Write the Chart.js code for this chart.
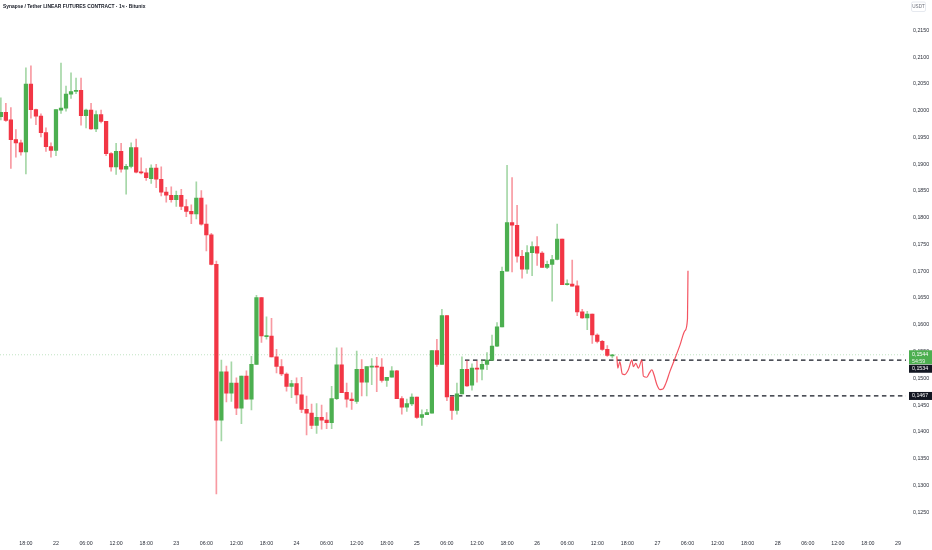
<!DOCTYPE html>
<html>
<head>
<meta charset="utf-8">
<script src="https://cdn.jsdelivr.net/npm/chart.js@4.4.1/dist/chart.umd.min.js"></script>
<style>
  html, body { margin: 0; padding: 0; background: #ffffff; }
  #wrap { width: 932px; height: 550px; }
</style>
</head>
<body>
<div id="wrap"><canvas id="chart" width="932" height="550"></canvas></div>
<script>
// --- DATA: hourly candles, Synapse / Tether, from 21 13:00 ---
const TITLE = 'Synapse / Tether LINEAR FUTURES CONTRACT · 1ч · Bitunix';
const FIRST_HOUR = -11; // hours relative to day 22 00:00

const opens = [
  0.1989, 0.1997, 0.1983, 0.1946, 0.1940, 0.1923, 0.2050, 0.2002, 0.1990, 0.1959,
  0.1933, 0.1926, 0.2001, 0.2005, 0.2031, 0.2036, 0.2038, 0.1991, 0.2001, 0.1966,
  0.1993, 0.1980, 0.1920, 0.1895, 0.1924, 0.1891, 0.1896, 0.1931, 0.1885, 0.1884,
  0.1873, 0.1893, 0.1872, 0.1848, 0.1842, 0.1834, 0.1842, 0.1821, 0.1812, 0.1807,
  0.1837, 0.1788, 0.1768, 0.1713, 0.1422, 0.1512, 0.1472, 0.1491, 0.1444, 0.1504,
  0.1461, 0.1526, 0.1651, 0.1578, 0.1579, 0.1540, 0.1522, 0.1508, 0.1485, 0.1490,
  0.1469, 0.1442, 0.1435, 0.1412, 0.1427, 0.1422, 0.1417, 0.1462, 0.1525, 0.1474,
  0.1461, 0.1457, 0.1517, 0.1493, 0.1521, 0.1522, 0.1521, 0.1496, 0.1502, 0.1514,
  0.1462, 0.1446, 0.1452, 0.1465, 0.1427, 0.1432, 0.1435, 0.1552, 0.1526, 0.1617,
  0.1465, 0.1440, 0.1471, 0.1517, 0.1487, 0.1519, 0.1517, 0.1526, 0.1534, 0.1560,
  0.1596, 0.1700, 0.1791, 0.1786, 0.1728, 0.1704, 0.1735, 0.1746, 0.1734, 0.1707,
  0.1713, 0.1722, 0.1760, 0.1675, 0.1676, 0.1673, 0.1624, 0.1613, 0.1620, 0.1581,
  0.1569, 0.1554, 0.1542
];
const highs = [
  0.2024, 0.2014, 0.2006, 0.1965, 0.1945, 0.2080, 0.2084, 0.2003, 0.1994, 0.1968,
  0.1940, 0.2002, 0.2089, 0.2046, 0.2071, 0.2061, 0.2061, 0.2003, 0.2014, 0.2000,
  0.2001, 0.1980, 0.1922, 0.1939, 0.1939, 0.1900, 0.1940, 0.1947, 0.1912, 0.1892,
  0.1899, 0.1900, 0.1895, 0.1857, 0.1858, 0.1850, 0.1853, 0.1834, 0.1824, 0.1867,
  0.1851, 0.1824, 0.1771, 0.1719, 0.1534, 0.1523, 0.1531, 0.1501, 0.1504, 0.1514,
  0.1541, 0.1655, 0.1651, 0.1615, 0.1612, 0.1554, 0.1535, 0.1510, 0.1496, 0.1501,
  0.1502, 0.1467, 0.1452, 0.1453, 0.1450, 0.1436, 0.1485, 0.1557, 0.1557, 0.1491,
  0.1473, 0.1551, 0.1535, 0.1522, 0.1537, 0.1539, 0.1537, 0.1502, 0.1522, 0.1515,
  0.1466, 0.1461, 0.1471, 0.1465, 0.1441, 0.1442, 0.1552, 0.1573, 0.1629, 0.1617,
  0.1467, 0.1491, 0.1540, 0.1533, 0.1527, 0.1532, 0.1534, 0.1548, 0.1581, 0.1604,
  0.1708, 0.1898, 0.1875, 0.1823, 0.1739, 0.1748, 0.1755, 0.1765, 0.1737, 0.1719,
  0.1730, 0.1788, 0.1760, 0.1684, 0.1721, 0.1682, 0.1629, 0.1625, 0.1620, 0.1583,
  0.1571, 0.1561, 0.1545
];
const lows = [
  0.1983, 0.1980, 0.1892, 0.1913, 0.1917, 0.1882, 0.1986, 0.1974, 0.1951, 0.1924,
  0.1913, 0.1916, 0.1995, 0.1999, 0.2023, 0.2032, 0.1973, 0.1968, 0.1965, 0.1961,
  0.1977, 0.1916, 0.1887, 0.1881, 0.1885, 0.1844, 0.1893, 0.1884, 0.1882, 0.1870,
  0.1864, 0.1856, 0.1841, 0.1829, 0.1829, 0.1821, 0.1815, 0.1802, 0.1789, 0.1798,
  0.1786, 0.1738, 0.1712, 0.1284, 0.1383, 0.1456, 0.1457, 0.1432, 0.1415, 0.1461,
  0.1441, 0.1526, 0.1567, 0.1573, 0.1540, 0.1510, 0.1505, 0.1476, 0.1464, 0.1453,
  0.1436, 0.1394, 0.1406, 0.1397, 0.1405, 0.1406, 0.1406, 0.1460, 0.1473, 0.1446,
  0.1442, 0.1453, 0.1467, 0.1467, 0.1488, 0.1475, 0.1493, 0.1485, 0.1502, 0.1462,
  0.1433, 0.1438, 0.1449, 0.1425, 0.1412, 0.1432, 0.1435, 0.1522, 0.1526, 0.1458,
  0.1423, 0.1433, 0.1471, 0.1485, 0.1478, 0.1493, 0.1497, 0.1516, 0.1534, 0.1559,
  0.1596, 0.1700, 0.1699, 0.1717, 0.1687, 0.1696, 0.1692, 0.1711, 0.1707, 0.1705,
  0.1644, 0.1721, 0.1675, 0.1674, 0.1672, 0.1617, 0.1612, 0.1591, 0.1565, 0.1566,
  0.1552, 0.1541, 0.1538
];
const closes = [
  0.1997, 0.1982, 0.1946, 0.1940, 0.1923, 0.2050, 0.2002, 0.1990, 0.1959, 0.1933,
  0.1926, 0.2002, 0.2005, 0.2031, 0.2036, 0.2038, 0.1991, 0.2001, 0.1966, 0.1993,
  0.1980, 0.1920, 0.1895, 0.1924, 0.1891, 0.1896, 0.1931, 0.1885, 0.1884, 0.1875,
  0.1893, 0.1872, 0.1848, 0.1842, 0.1834, 0.1842, 0.1821, 0.1812, 0.1807, 0.1837,
  0.1788, 0.1768, 0.1713, 0.1422, 0.1512, 0.1472, 0.1491, 0.1444, 0.1504, 0.1461,
  0.1526, 0.1651, 0.1579, 0.1579, 0.1540, 0.1522, 0.1508, 0.1485, 0.1490, 0.1469,
  0.1442, 0.1435, 0.1412, 0.1427, 0.1422, 0.1417, 0.1462, 0.1525, 0.1473, 0.1461,
  0.1458, 0.1517, 0.1493, 0.1522, 0.1522, 0.1521, 0.1496, 0.1502, 0.1514, 0.1462,
  0.1446, 0.1453, 0.1465, 0.1427, 0.1432, 0.1436, 0.1552, 0.1526, 0.1617, 0.1465,
  0.1440, 0.1471, 0.1517, 0.1486, 0.1519, 0.1517, 0.1526, 0.1534, 0.1560, 0.1596,
  0.1700, 0.1791, 0.1786, 0.1728, 0.1704, 0.1735, 0.1746, 0.1734, 0.1707, 0.1713,
  0.1722, 0.1760, 0.1675, 0.1676, 0.1672, 0.1624, 0.1613, 0.1620, 0.1581, 0.1569,
  0.1554, 0.1543, 0.1544
];

// hand-drawn projection path (hours from 22 00:00, price)
const curveHours = [111.9, 112.1, 112.5, 113.0, 113.5, 114.2, 114.9, 115.2, 115.7, 116.2,
  116.9, 117.2, 117.9, 118.4, 118.9, 119.3, 119.9, 120.5, 121.1, 121.7,
  122.5, 123.5, 124.5, 125.5, 126.0, 126.1];
const curvePrices = [0.1541, 0.1519, 0.1531, 0.1508, 0.1507, 0.1516, 0.1534, 0.1522, 0.1528, 0.1519,
  0.1534, 0.1504, 0.1502, 0.1510, 0.1516, 0.1507, 0.1488, 0.1479, 0.1480, 0.1491,
  0.1513, 0.1537, 0.1562, 0.1589, 0.1611, 0.1701];

// horizontal levels (price, start hour)
const levelPrices = [0.1534, 0.1467];
const levelStartHours = [81.6, 78.6];
const lastPrice = 0.1544;
const lastCountdown = '54:59';

// axes
const xTickHours = [-6, 0, 6, 12, 18, 24, 30, 36, 42, 48, 54, 60, 66, 72, 78, 84, 90, 96,
  102, 108, 114, 120, 126, 132, 138, 144, 150, 156, 162, 168];
const xTickLabels = ['18:00', '22', '06:00', '12:00', '18:00', '23', '06:00', '12:00', '18:00',
  '24', '06:00', '12:00', '18:00', '25', '06:00', '12:00', '18:00', '26', '06:00', '12:00',
  '18:00', '27', '06:00', '12:00', '18:00', '28', '06:00', '12:00', '18:00', '29'];
const yTickValues = [0.1250, 0.1300, 0.1350, 0.1400, 0.1450, 0.1500, 0.1550, 0.1600, 0.1650,
  0.1700, 0.1750, 0.1800, 0.1850, 0.1900, 0.1950, 0.2000, 0.2050, 0.2100, 0.2150];
const X_MIN = -11.17, X_MAX = 169.6;
const Y_MIN = 0.12128, Y_MAX = 0.21879;

// --- STYLE ---
const UP = '#4caf50';
const DOWN = '#f23645';
const UP_WICK = 'rgba(76,175,80,0.5)';
const DOWN_WICK = 'rgba(242,54,69,0.5)';
const FONT = '"Liberation Sans", Arial, sans-serif';
const fmt = v => v.toFixed(4).replace('.', ',');

const isUp = opens.map((o, i) => closes[i] >= o);
const bodies = opens.map((o, i) => ({ x: FIRST_HOUR + i, y: [Math.min(o, closes[i]), Math.max(o, closes[i])] }));
const wicks = opens.map((o, i) => ({ x: FIRST_HOUR + i, y: [lows[i], highs[i]] }));

// title, currency badge and price labels on the axis
const overlayPlugin = {
  id: 'overlay',
  afterDraw(chart) {
    const ctx = chart.ctx;
    const yS = chart.scales.y;
    const right = chart.width;
    ctx.save();

    ctx.fillStyle = '#131722';
    ctx.font = '600 4.9px ' + FONT;
    ctx.textBaseline = 'middle';
    ctx.textAlign = 'left';
    ctx.fillText(TITLE, 3, 7);

    // USDT badge
    ctx.strokeStyle = '#e0e3eb';
    ctx.lineWidth = 0.8;
    ctx.beginPath();
    ctx.roundRect(911.5, 2, 14, 9.5, 1.5);
    ctx.stroke();
    ctx.fillStyle = '#6a6d78';
    ctx.font = '4.6px ' + FONT;
    ctx.textAlign = 'center';
    ctx.fillText('USDT', 918.5, 7);

    const x0 = yS.left + 3;
    const w = right - x0;
    const textX = x0 + 3;
    ctx.textAlign = 'left';
    ctx.font = '5.3px ' + FONT;

    // last price (green)
    const yl = yS.getPixelForValue(lastPrice);
    ctx.fillStyle = UP;
    ctx.fillRect(x0, yl - 4.5, w, 14);
    ctx.fillStyle = '#ffffff';
    ctx.fillText(fmt(lastPrice), textX, yl);
    ctx.fillStyle = 'rgba(255,255,255,0.85)';
    ctx.fillText(lastCountdown, textX, yl + 6.3);

    // level labels (black)
    levelPrices.forEach((p, i) => {
      let yp = yS.getPixelForValue(p);
      if (Math.abs(yp - yl) < 14) yp = yl + 14; // push below last price tag
      ctx.fillStyle = '#131722';
      ctx.fillRect(x0, yp - 4, w, 8);
      ctx.fillStyle = '#ffffff';
      ctx.fillText(fmt(p), textX, yp);
    });
    ctx.restore();
  }
};

const ctx = document.getElementById('chart').getContext('2d');
const chart = new Chart(ctx, {
  type: 'bar',
  data: {
    datasets: [
      {
        type: 'line', order: 1,
        data: curveHours.map((h, i) => ({ x: h, y: curvePrices[i] })),
        borderColor: 'rgba(242,54,69,0.85)', borderWidth: 1.2,
        pointRadius: 0, tension: 0.35, cubicInterpolationMode: 'monotone'
      },
      {
        label: 'body', order: 3, grouped: false,
        data: bodies,
        backgroundColor: isUp.map(u => u ? UP : DOWN),
        barThickness: 3.6, minBarLength: 1, borderWidth: 0
      },
      {
        label: 'wick', order: 4, grouped: false,
        data: wicks,
        backgroundColor: isUp.map(u => u ? UP_WICK : DOWN_WICK),
        barThickness: 1, minBarLength: 1, borderWidth: 0
      },
      ...levelPrices.map((p, i) => ({
        type: 'line', order: 5,
        data: [{ x: levelStartHours[i], y: p }, { x: X_MAX, y: p }],
        borderColor: '#131722', borderWidth: 1.3, borderDash: [4.5, 3.5],
        pointRadius: 0
      })),
      {
        type: 'line', order: 6,
        data: [{ x: X_MIN, y: lastPrice }, { x: X_MAX, y: lastPrice }],
        borderColor: 'rgba(76,175,80,0.35)', borderWidth: 1, borderDash: [1, 2],
        pointRadius: 0
      }
    ]
  },
  options: {
    responsive: false,
    animation: false,
    layout: { padding: 0 },
    plugins: { legend: { display: false }, tooltip: { enabled: false } },
    scales: {
      x: {
        type: 'linear', min: X_MIN, max: X_MAX, offset: false,
        grid: { display: false, drawTicks: false },
        border: { display: false },
        afterBuildTicks: s => { s.ticks = xTickHours.map(v => ({ value: v })); },
        afterFit: s => { s.height = 18; },
        ticks: {
          autoSkip: false, maxRotation: 0, padding: 8,
          color: '#2a2e39', font: { family: FONT, size: 5.3 },
          callback: (v, i) => xTickLabels[i]
        }
      },
      y: {
        position: 'right', min: Y_MIN, max: Y_MAX,
        grid: { display: false, drawTicks: false },
        border: { display: false },
        afterBuildTicks: s => { s.ticks = yTickValues.map(v => ({ value: v })); },
        afterFit: s => { s.width = 26; },
        ticks: {
          autoSkip: false, padding: 7,
          color: '#2a2e39', font: { family: FONT, size: 5.3 },
          callback: v => fmt(v)
        }
      }
    }
  },
  plugins: [overlayPlugin]
});
</script>
</body>
</html>
